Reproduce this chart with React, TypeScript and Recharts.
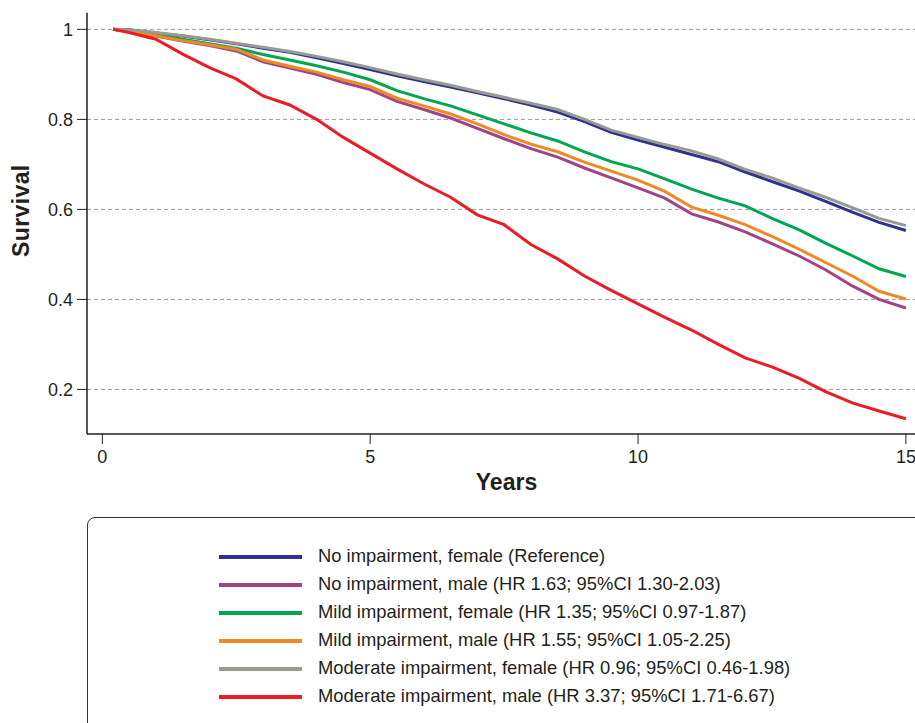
import React from 'react';
import { LineChart, Line, XAxis, YAxis, CartesianGrid } from 'recharts';

const YEARS = [0.2, 0.5, 1, 1.5, 2, 2.5, 3, 3.5, 4, 4.5, 5, 5.5, 6, 6.5, 7, 7.5, 8, 8.5, 9, 9.5, 10, 10.5, 11, 11.5, 12, 12.5, 13, 13.5, 14, 14.5, 15];

const noImpFemale = [1, 0.999, 0.992, 0.985, 0.977, 0.968, 0.958, 0.949, 0.937, 0.924, 0.911, 0.897, 0.884, 0.872, 0.859, 0.846, 0.832, 0.816, 0.795, 0.771, 0.754, 0.738, 0.722, 0.706, 0.683, 0.662, 0.641, 0.618, 0.594, 0.571, 0.553];
const noImpMale = [1, 0.996, 0.985, 0.974, 0.964, 0.952, 0.928, 0.914, 0.9, 0.882, 0.866, 0.84, 0.822, 0.803, 0.78, 0.757, 0.735, 0.716, 0.692, 0.67, 0.648, 0.625, 0.59, 0.572, 0.55, 0.524, 0.497, 0.466, 0.43, 0.4, 0.381];
const mildFemale = [1, 0.997, 0.988, 0.978, 0.968, 0.958, 0.944, 0.932, 0.919, 0.905, 0.888, 0.864, 0.846, 0.83, 0.81, 0.79, 0.77, 0.752, 0.728, 0.706, 0.69, 0.668, 0.645, 0.625, 0.608, 0.58, 0.555, 0.525, 0.497, 0.468, 0.451];
const mildMale = [1, 0.996, 0.986, 0.975, 0.966, 0.956, 0.932, 0.918, 0.905, 0.888, 0.873, 0.847, 0.83, 0.812, 0.79, 0.766, 0.745, 0.728, 0.705, 0.685, 0.665, 0.64, 0.605, 0.587, 0.566, 0.54, 0.512, 0.482, 0.452, 0.418, 0.401];
const modFemale = [1, 0.999, 0.993, 0.986, 0.978, 0.969, 0.96, 0.951, 0.94, 0.928, 0.915, 0.901, 0.888, 0.876, 0.862, 0.849, 0.836, 0.822, 0.8, 0.776, 0.76, 0.744, 0.73, 0.712, 0.689, 0.67, 0.648, 0.627, 0.604, 0.58, 0.564];
const modMale = [1, 0.993, 0.978, 0.945, 0.915, 0.89, 0.852, 0.832, 0.8, 0.76, 0.725, 0.69, 0.657, 0.627, 0.588, 0.566, 0.522, 0.49, 0.452, 0.42, 0.39, 0.36, 0.332, 0.3, 0.27, 0.25, 0.225, 0.195, 0.17, 0.152, 0.135];

const X_TICKS = [0, 5, 10, 15];
const Y_TICKS = [0.2, 0.4, 0.6, 0.8, 1];
const Y_DOMAIN = [0.101, 1.037];

const SERIES = [
  { key: 'noImpF', name: 'No impairment, female (Reference)', color: '#2E3192', values: noImpFemale },
  { key: 'noImpM', name: 'No impairment, male (HR 1.63; 95%CI 1.30-2.03)', color: '#A0448A', values: noImpMale },
  { key: 'mildF', name: 'Mild impairment, female (HR 1.35; 95%CI 0.97-1.87)', color: '#00A651', values: mildFemale },
  { key: 'mildM', name: 'Mild impairment, male (HR 1.55; 95%CI 1.05-2.25)', color: '#EE8A25', values: mildMale },
  { key: 'modF', name: 'Moderate impairment, female (HR 0.96; 95%CI 0.46-1.98)', color: '#999B8E', values: modFemale },
  { key: 'modM', name: 'Moderate impairment, male (HR 3.37; 95%CI 1.71-6.67)', color: '#ED1C24', values: modMale },
];

const data = YEARS.map((t, i) => {
  const row: any = { t };
  SERIES.forEach(s => { row[s.key] = s.values[i]; });
  return row;
});

const FONT = '"Liberation Sans", Arial, Helvetica, sans-serif';
const INK = '#231f20';

// dashed rows only at the tick values, none along the top border
const gridRows = ({ yAxis, offset }: any) => {
  if (yAxis && typeof yAxis.scale === 'function') return Y_TICKS.map(v => yAxis.scale(v));
  const [lo, hi] = Y_DOMAIN;
  return Y_TICKS.map(v => offset.top + (1 - (v - lo) / (hi - lo)) * offset.height);
};

const App = () => {
  return (
    <div style={{ position: 'absolute', left: 0, top: 0, width: 915, height: 723, overflow: 'hidden', background: '#fff', fontFamily: FONT }}>
      <LineChart width={915} height={500} data={data} margin={{ top: 12.7, right: 0, bottom: 0, left: 0 }}>
        <CartesianGrid vertical={false} stroke="#9a9a9a" strokeDasharray="4 3" horizontalCoordinatesGenerator={gridRows} />
        <XAxis
          dataKey="t"
          type="number"
          domain={[-0.286, 15.17]}
          ticks={X_TICKS}
          allowDataOverflow
          height={66}
          tickSize={10}
          tickMargin={6}
          axisLine={{ stroke: INK, strokeWidth: 1.5 }}
          tickLine={{ stroke: INK, strokeWidth: 1 }}
          tick={{ fill: INK, fontSize: 18, fontFamily: FONT }}
          label={{
            content: () => (
              <text x={506.5} y={490} textAnchor="middle" fontSize={23} fontWeight="bold" fill={INK} fontFamily={FONT}>Years</text>
            ),
          }}
        />
        <YAxis
          type="number"
          domain={Y_DOMAIN}
          ticks={Y_TICKS}
          allowDataOverflow
          width={87}
          tickSize={10}
          tickMargin={4}
          axisLine={{ stroke: INK, strokeWidth: 1.5 }}
          tickLine={{ stroke: INK, strokeWidth: 1 }}
          tick={{ fill: INK, fontSize: 18, fontFamily: FONT }}
          label={{
            content: () => (
              <text x={29.3} y={210.7} transform="rotate(-90 29.3 210.7)" textAnchor="middle" fontSize={23} fontWeight="bold" fill={INK} fontFamily={FONT} letterSpacing={0.4}>Survival</text>
            ),
          }}
        />
        {SERIES.map(s => (
          <Line
            key={s.key}
            dataKey={s.key}
            name={s.name}
            type="linear"
            stroke={s.color}
            strokeWidth={3}
            dot={false}
            activeDot={false}
            isAnimationActive={false}
          />
        ))}
      </LineChart>
      <div style={{ position: 'absolute', left: 87, top: 517, width: 900, height: 300, border: '1.5px solid #333', borderRadius: 8, boxSizing: 'border-box' }} />
      <div style={{ position: 'absolute', left: 219, top: 542.7 }}>
        {SERIES.map(s => (
          <div key={s.key} style={{ display: 'flex', alignItems: 'center', height: 28 }}>
            <div style={{ width: 83, height: 4, background: s.color }} />
            <span style={{ marginLeft: 16, fontSize: 18.4, color: INK, lineHeight: 1, whiteSpace: 'nowrap' }}>{s.name}</span>
          </div>
        ))}
      </div>
    </div>
  );
};

export default App;
